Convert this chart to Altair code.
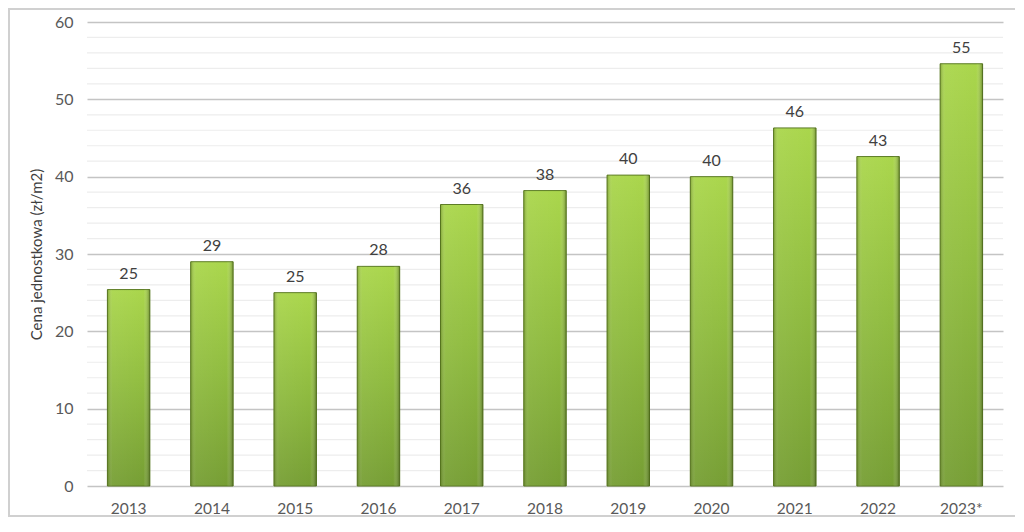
import altair as alt
import pandas as pd

years = ["2013", "2014", "2015", "2016", "2017", "2018", "2019", "2020", "2021", "2022", "2023*"]
prices = [25.4, 29.0, 25.0, 28.4, 36.4, 38.2, 40.2, 40.0, 46.3, 42.6, 54.6]
minor_ticks = [2, 4, 6, 8, 12, 14, 16, 18, 22, 24, 26, 28, 32, 34, 36, 38, 42, 44, 46, 48, 52, 54, 56, 58]
major_ticks = [0, 10, 20, 30, 40, 50, 60]

df = pd.DataFrame({"rok": years, "cena": prices})

FONT = "Lato"
W, H = 916, 464

yscale = alt.Scale(domain=[0, 60], nice=False)
yaxis = alt.Axis(values=major_ticks, labelFont=FONT, labelFontSize=16,
                 labelColor="#595959", labelPadding=14, ticks=False, domain=False,
                 grid=True, gridColor="#c4c4c4", gridWidth=1.5,
                 titleFont=FONT, titleFontSize=15, titleColor="#404040",
                 titleFontWeight="normal", titlePadding=10)

x = alt.X("rok:N", sort=years, title=None,
          scale=alt.Scale(paddingInner=0.49, paddingOuter=0.245),
          axis=alt.Axis(labelAngle=0, labelFont=FONT, labelFontSize=15.5, labelColor="#595959",
                        labelPadding=15, ticks=False, domain=False, grid=False))

minor = alt.Chart(pd.DataFrame({"v": minor_ticks})).mark_rule(color="#ededed", strokeWidth=1.2).encode(
    y=alt.Y("v:Q", scale=yscale, axis=yaxis, title="Cena jednostkowa (zł/m2)")
)

base = alt.Chart(df)

bars = base.mark_bar(
    color=alt.Gradient(gradient="linear", x1=0, x2=0, y1=0, y2=1,
                       stops=[alt.GradientStop(offset=0, color="#aad64c"),
                              alt.GradientStop(offset=0.5, color="#90bc40"),
                              alt.GradientStop(offset=1, color="#769e34")]),
    stroke="#5a7a22", strokeWidth=1
).encode(x=x, y=alt.Y("cena:Q"))

shade = base.mark_bar(
    color=alt.Gradient(gradient="linear", x1=0, x2=1, y1=0, y2=0,
                       stops=[alt.GradientStop(offset=0, color="rgba(60,80,10,0.35)"),
                              alt.GradientStop(offset=0.12, color="rgba(255,255,255,0.05)"),
                              alt.GradientStop(offset=0.85, color="rgba(255,255,255,0.0)"),
                              alt.GradientStop(offset=1, color="rgba(40,60,5,0.45)")]),
    strokeWidth=0
).encode(x=alt.X("rok:N", sort=years), y=alt.Y("cena:Q"))

labels = base.mark_text(baseline="bottom", dy=-8, font=FONT, fontSize=16, color="#404040").encode(
    x=alt.X("rok:N", sort=years), y=alt.Y("cena:Q"), text=alt.Text("cena:Q", format=".0f")
)

frame = alt.Chart(pd.DataFrame({"a": [0]})).mark_rect(
    fill=None, stroke="#d0d0d0", strokeWidth=2, clip=False
).encode(x=alt.value(-78), x2=alt.value(W + 82), y=alt.value(-13), y2=alt.value(H + 30))

chart = alt.layer(minor, bars, shade, labels, frame).resolve_scale(y="shared").properties(
    width=W, height=H,
    autosize=alt.AutoSizeParams(type="none"),
    padding={"left": 79, "top": 14, "right": 12, "bottom": 32},
    background="white"
).configure_view(stroke=None)

chart.save("out.html", embed_options={"renderer": "svg", "actions": False})
